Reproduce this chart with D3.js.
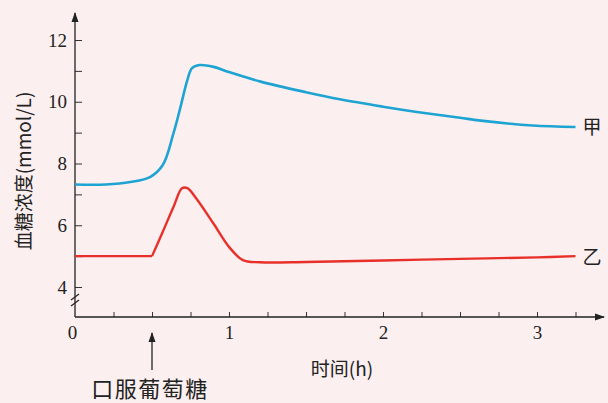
<!DOCTYPE html>
<html>
<head>
  <meta charset="UTF-8">
  <title>血糖浓度</title>
  <style>
    html, body { margin: 0; padding: 0; background: #fcefef; }
    svg { display: block; }
    .cjk { font-family: "Noto Sans CJK SC", sans-serif; fill: #222; }
  </style>
</head>
<body>
  <svg id="chart" width="608" height="403"></svg>

  <script src="https://cdn.jsdelivr.net/npm/d3@7/dist/d3.min.js"></script>
  <script>
    // curve 甲 (blue)
    var timeJia = [0, 0.2, 0.36, 0.49, 0.57, 0.64, 0.68, 0.73, 0.76, 0.81, 0.9, 1.0, 1.2, 1.5, 1.72, 2.0, 2.22, 2.5, 2.65, 2.97, 3.25];
    var jia = [7.32, 7.32, 7.40, 7.57, 7.95, 8.99, 9.73, 10.71, 11.09, 11.19, 11.13, 10.96, 10.66, 10.31, 10.08, 9.84, 9.67, 9.48, 9.38, 9.23, 9.18];

    // curve 乙 (red)
    var timeYi = [0, 0.5, 0.57, 0.64, 0.695, 0.73, 0.79, 0.9, 1.0, 1.09, 1.2, 1.5, 2.0, 2.5, 3.0, 3.25];
    var yi = [5.0, 5.0, 5.79, 6.6, 7.2, 7.2, 6.85, 6.05, 5.3, 4.87, 4.8, 4.81, 4.86, 4.91, 4.96, 5.0];

    var xTicks = [0.25, 0.5, 0.75, 1, 1.25, 1.5, 1.75, 2, 2.25, 2.5, 2.75, 3, 3.25];
    var xLabels = [0, 1, 2, 3];
    var yTicks = [4, 5, 6, 7, 8, 9, 10, 11, 12];
    var yLabels = [4, 6, 8, 10, 12];
    var doseTime = 0.5;

    var svg = d3.select("#chart");

    var x = d3.scaleLinear().domain([0, 3]).range([75, 537]);
    var y = d3.scaleLinear().domain([4, 12]).range([287, 40]);
    var axisY = 317;   // where the x axis sits (below the break)

    svg.append("defs").append("marker")
        .attr("id", "arrow")
        .attr("viewBox", "0 0 10 10")
        .attr("refX", 9).attr("refY", 5)
        .attr("markerWidth", 10).attr("markerHeight", 10)
        .attr("markerUnits", "userSpaceOnUse")
        .attr("orient", "auto")
      .append("path")
        .attr("d", "M0,1.5 L10,5 L0,8.5 Z")
        .attr("fill", "#222");

    function styleAxis(g) {
      g.attr("font-family", null).attr("font-size", null);
      g.select(".domain").remove();
      g.selectAll(".tick line").attr("stroke", "#333");
      g.selectAll(".tick text")
        .attr("font-family", "Liberation Serif, Times New Roman, DejaVu Serif, serif")
        .attr("font-size", 19)
        .attr("fill", "#222");
    }

    // x axis
    var gx = svg.append("g")
        .attr("transform", "translate(0," + axisY + ")")
        .call(d3.axisBottom(x).tickValues(xTicks.concat([0])).tickSize(-5).tickPadding(9)
          .tickFormat(function(d) { return xLabels.indexOf(d) >= 0 ? d : ""; }))
        .call(styleAxis);
    gx.selectAll(".tick").filter(function(d) { return d === 0; }).select("line").remove();
    gx.selectAll(".tick").filter(function(d) { return d === 0; }).select("text").attr("dx", "-3");
    svg.append("line")
        .attr("x1", x(0)).attr("x2", 604)
        .attr("y1", axisY).attr("y2", axisY)
        .attr("stroke", "#222").attr("stroke-width", 1.3)
        .attr("marker-end", "url(#arrow)");

    // y axis
    svg.append("g")
        .attr("transform", "translate(" + x(0) + ",0)")
        .call(d3.axisLeft(y).tickValues(yTicks).tickSize(-7).tickPadding(8)
          .tickFormat(function(d) { return yLabels.indexOf(d) >= 0 ? d : ""; }))
        .call(styleAxis);
    svg.append("line")
        .attr("x1", x(0)).attr("x2", x(0))
        .attr("y1", axisY).attr("y2", 13)
        .attr("stroke", "#222").attr("stroke-width", 1.3)
        .attr("marker-end", "url(#arrow)");

    // axis break
    [297, 303].forEach(function(by) {
      svg.append("line")
        .attr("x1", x(0) - 4).attr("x2", x(0) + 4)
        .attr("y1", by + 3).attr("y2", by - 3)
        .attr("stroke", "#222").attr("stroke-width", 1.2);
    });

    var line = d3.line()
        .x(function(d) { return x(d[0]); })
        .y(function(d) { return y(d[1]); })
        .curve(d3.curveCatmullRom.alpha(0.5));

    svg.append("path")
        .datum(d3.zip(timeJia, jia))
        .attr("fill", "none")
        .attr("stroke", "#1ea4d3")
        .attr("stroke-width", 2.6)
        .attr("d", line);

    // red: flat part then the peak, so the corner at dosing stays sharp
    var yiPts = d3.zip(timeYi, yi);
    svg.append("path")
        .datum(yiPts.slice(0, 2))
        .attr("fill", "none")
        .attr("stroke", "#e8302a")
        .attr("stroke-width", 2.4)
        .attr("d", line);
    svg.append("path")
        .datum(yiPts.slice(1))
        .attr("fill", "none")
        .attr("stroke", "#e8302a")
        .attr("stroke-width", 2.4)
        .attr("stroke-linejoin", "round")
        .attr("d", line);

    // series labels
    svg.append("text").attr("class", "cjk")
        .attr("x", x(timeJia[timeJia.length - 1]) + 7)
        .attr("y", y(jia[jia.length - 1]) + 7)
        .style("font-size", "19px")
        .text("甲");
    svg.append("text").attr("class", "cjk")
        .attr("x", x(timeYi[timeYi.length - 1]) + 7)
        .attr("y", y(yi[yi.length - 1]) + 8)
        .style("font-size", "19px")
        .text("乙");

    // axis titles
    svg.append("text").attr("class", "cjk")
        .attr("transform", "translate(31,171) rotate(-90)")
        .attr("text-anchor", "middle")
        .style("font-size", "19px")
        .text("血糖浓度(mmol/L)");
    svg.append("text").attr("class", "cjk")
        .attr("x", 342).attr("y", 376)
        .attr("text-anchor", "middle")
        .style("font-size", "19px")
        .text("时间(h)");

    // dosing arrow
    svg.append("line")
        .attr("x1", x(doseTime)).attr("x2", x(doseTime))
        .attr("y1", 370).attr("y2", 333)
        .attr("stroke", "#222").attr("stroke-width", 1.3)
        .attr("marker-end", "url(#arrow)");
    svg.append("text").attr("class", "cjk")
        .attr("x", x(doseTime) - 2).attr("y", 397)
        .attr("text-anchor", "middle")
        .style("font-size", "22px")
        .style("letter-spacing", "1.5px")
        .text("口服葡萄糖");
  </script>
</body>
</html>
